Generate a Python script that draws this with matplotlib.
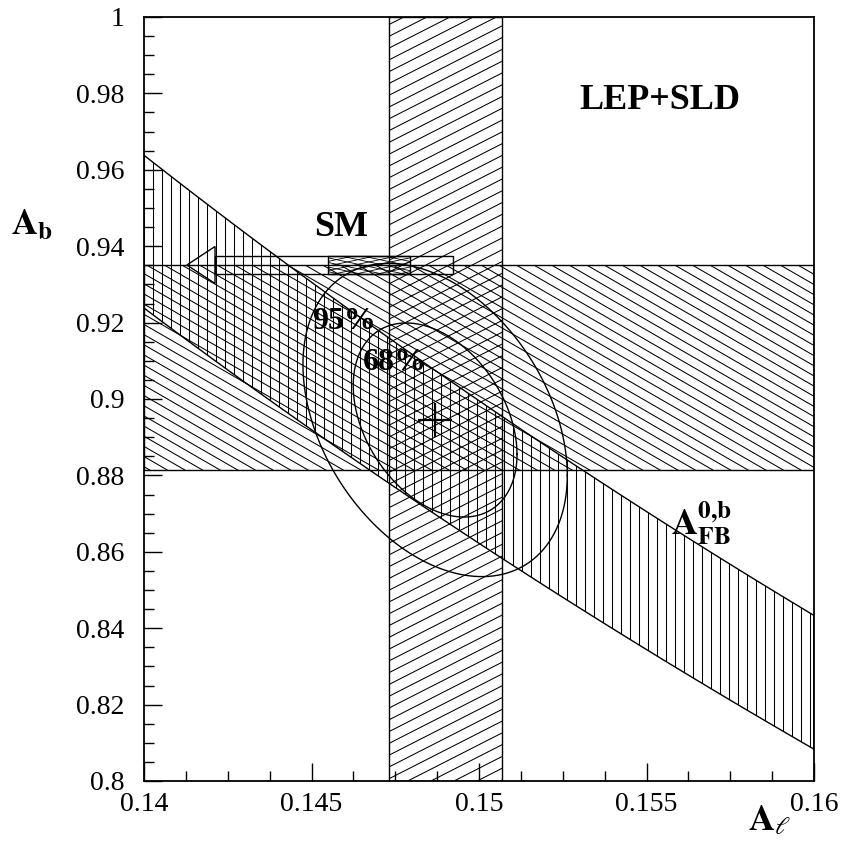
import numpy as np
import matplotlib
matplotlib.use('Agg')
import matplotlib.pyplot as plt
from matplotlib.patches import Polygon, Rectangle
from matplotlib.collections import LineCollection
from matplotlib.ticker import MultipleLocator, FormatStrFormatter

plt.rcParams['font.family'] = ['Liberation Serif', 'DejaVu Serif']
plt.rcParams['mathtext.fontset'] = 'stix'

# measurements
al_mean, al_err = 0.1490, 0.0017          # A_l band
ab_mean, ab_err = 0.9083, 0.0269          # A_b band
afb_mean, afb_err = 0.0991, 0.0021        # A_FB^{0,b} band (A_b = 4 A_FB / 3 A_l)

# combined fit ellipse
fit_al, fit_ab = 0.14869, 0.8945
fit_sig_al, fit_sig_ab, fit_rho = 0.001612, 0.01675, -0.354
chi2_levels = [2.30, 5.99]                # 68%, 95%

# SM prediction
sm_ab = 0.93508
sm_box_al = [0.14549, 0.14794]
sm_arrow_al = [0.14128, 0.14922]
sm_half_h = 0.00236
sm_head_half_h = 0.00484
sm_head_len = 0.00084

x_ticks = [0.14, 0.145, 0.15, 0.155, 0.16]
y_ticks = [0.8, 0.82, 0.84, 0.86, 0.88, 0.9, 0.92, 0.94, 0.96, 0.98, 1.0]

fig = plt.figure(figsize=(8.41, 8.42), dpi=100)
ax = fig.add_axes([144/841, 1-781/842, 670/841, 764/842])
ax.set_xlim(0.14, 0.16)
ax.set_ylim(0.8, 1.0)


def hatch(patch, angle, spacing, lw=0.75):
    # draw straight hatch lines (angle in degrees on screen, spacing in px) clipped to patch
    path = patch.get_path().transformed(patch.get_transform())
    v = path.vertices
    x0, y0 = v.min(axis=0)
    x1, y1 = v.max(axis=0)
    c = np.array([(x0+x1)/2, (y0+y1)/2])
    R = np.hypot(x1-x0, y1-y0)/2 + spacing
    th = np.deg2rad(angle)
    d = np.array([np.cos(th), np.sin(th)])
    n = np.array([-np.sin(th), np.cos(th)])
    inv = ax.transData.inverted()
    segs = []
    for p in np.arange(-R, R, spacing):
        a = c + p*n - R*d
        b = c + p*n + R*d
        segs.append(inv.transform(np.array([a, b])))
    lc = LineCollection(segs, colors='black', linewidths=lw, transform=ax.transData)
    ax.add_collection(lc)
    lc.set_clip_path(patch)


# A_l band (vertical)
vband = ax.axvspan(al_mean-al_err, al_mean+al_err, facecolor='none', edgecolor='black', lw=1.0)
hatch(vband, 27, 10.5)

# A_b band (horizontal)
hband = ax.axhspan(ab_mean-ab_err, ab_mean+ab_err, facecolor='none', edgecolor='black', lw=1.0)
hatch(hband, -30, 8.8)

# A_FB band
al = np.linspace(0.14, 0.16, 200)
up = 4*(afb_mean+afb_err)/(3*al)
lo = 4*(afb_mean-afb_err)/(3*al)
dpoly = Polygon(np.vstack([np.column_stack([al, up]), np.column_stack([al[::-1], lo[::-1]])]),
                closed=True, facecolor='none', edgecolor='black', lw=1.0)
ax.add_patch(dpoly)
hatch(dpoly, 90, 9.0)

# fit ellipses
t = np.linspace(0, 2*np.pi, 300)
for k in chi2_levels:
    ex = fit_al + np.sqrt(k)*fit_sig_al*np.cos(t)
    ey = fit_ab + np.sqrt(k)*fit_sig_ab*(fit_rho*np.cos(t) + np.sqrt(1-fit_rho**2)*np.sin(t))
    ax.plot(ex, ey, color='black', lw=1.0)
ax.plot([fit_al], [fit_ab], marker='+', color='black', markersize=25, mew=1.6)

# SM arrow
ax.add_patch(Rectangle((sm_arrow_al[0]+sm_head_len, sm_ab-sm_half_h),
                       sm_arrow_al[1]-sm_arrow_al[0]-sm_head_len, 2*sm_half_h,
                       facecolor='none', edgecolor='black', lw=1.0))
ax.add_patch(Polygon([[sm_arrow_al[0], sm_ab],
                      [sm_arrow_al[0]+sm_head_len, sm_ab+sm_head_half_h],
                      [sm_arrow_al[0]+sm_head_len, sm_ab-sm_head_half_h]],
                     closed=True, facecolor='none', edgecolor='black', lw=1.0))
smbox = Rectangle((sm_box_al[0], sm_ab-sm_half_h), sm_box_al[1]-sm_box_al[0], 2*sm_half_h,
                  facecolor='none', edgecolor='black', lw=1.0)
ax.add_patch(smbox)
hatch(smbox, 12, 4.5, lw=0.6)
hatch(smbox, -12, 4.5, lw=0.6)

# texts
ax.text(0.770, 0.891, 'LEP+SLD', transform=ax.transAxes, fontsize=26, fontweight='bold',
        ha='center', va='center')
ax.text(0.294, 0.724, 'SM', transform=ax.transAxes, fontsize=26, fontweight='bold',
        ha='center', va='center')
ax.text(0.2985, 0.601, '95%', transform=ax.transAxes, fontsize=23, fontweight='bold',
        ha='center', va='center')
ax.text(0.3746, 0.5484, '68%', transform=ax.transAxes, fontsize=23, fontweight='bold',
        ha='center', va='center')
ax.text(0.786, 0.322, r'$\mathbf{A_{FB}^{0{,}b}}$', transform=ax.transAxes, fontsize=26,
        ha='left', va='baseline')
fig.text(32/841, 1-225/842, r'$\mathbf{A_b}$', fontsize=26, ha='center', va='center')
fig.text(770/841, 1-822/842, r'$\mathbf{A}_{\ell}$', fontsize=26, ha='center', va='center')

# axes style
ax.set_xticks(x_ticks)
ax.set_yticks(y_ticks)
ax.xaxis.set_major_formatter(FormatStrFormatter('%g'))
ax.yaxis.set_major_formatter(FormatStrFormatter('%g'))
ax.xaxis.set_minor_locator(MultipleLocator(0.00125))
ax.yaxis.set_minor_locator(MultipleLocator(0.005))
ax.tick_params(which='both', direction='in', top=False, right=False, labelsize=20, width=1.0)
ax.tick_params(which='major', length=13)
ax.tick_params(which='minor', length=7)
ax.tick_params(axis='y', pad=14)
ax.tick_params(axis='x', pad=8)
for s in ax.spines.values():
    s.set_linewidth(1.3)

fig.savefig('out.png', dpi=100)
